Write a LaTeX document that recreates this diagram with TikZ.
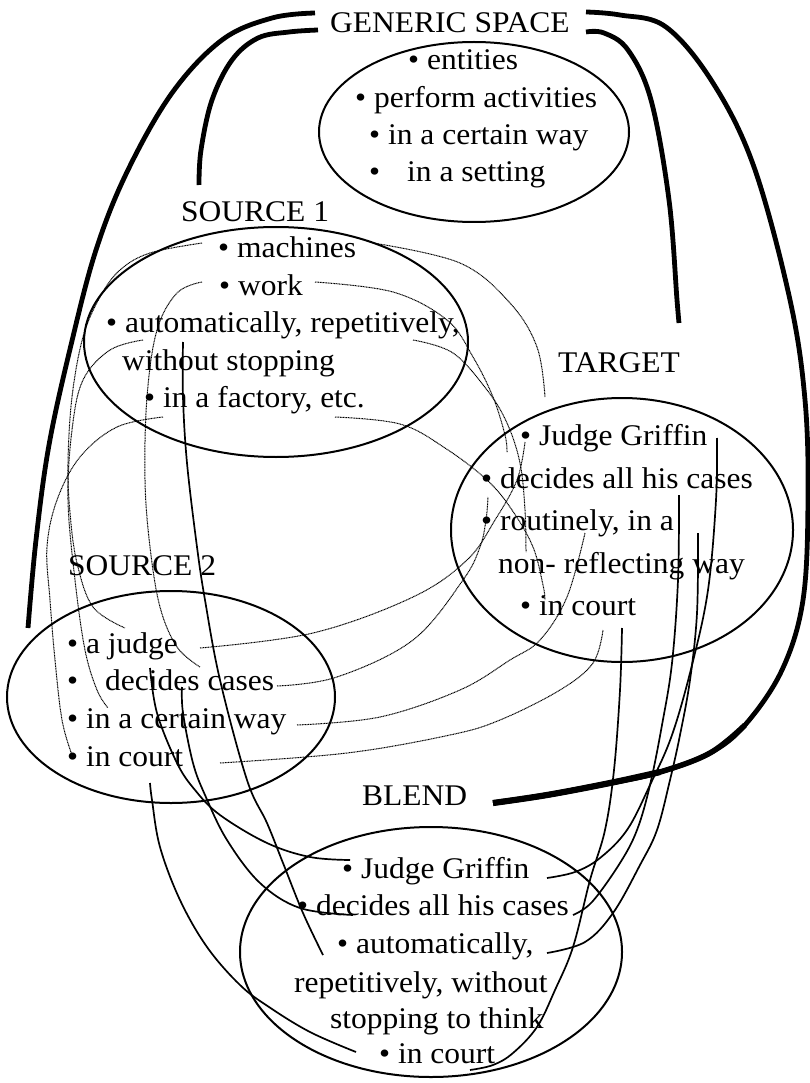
\documentclass[tikz,border=0pt]{standalone}
\usepackage{fontspec}
\setmainfont{Liberation Serif}[FakeStretch=1.05]
\usetikzlibrary{shapes.geometric}
\begin{document}
\begin{tikzpicture}[x=1pt,y=-1pt,
  lbl/.style={anchor=base west, inner sep=0pt, font=\fontsize{30}{36}\selectfont},
  spacebox/.style={draw, ellipse, line width=2pt, inner sep=0pt},
  gen/.style={line width=4.8pt},
  maplink/.style={line width=1pt, dash pattern=on 1pt off 0.6pt},
  proj/.style={line width=1.7pt},
  curve/.style={smooth, tension=0.6}]
\useasboundingbox (0,0) rectangle (810,1083);
\fill[white] (0,0) rectangle (810,1083);

% mental spaces
\node[spacebox, minimum width=310pt, minimum height=180pt] (genE) at (474,132) {};
\node[spacebox, minimum width=384pt, minimum height=230pt] (srcOneE) at (276,342) {};
\node[spacebox, minimum width=342pt, minimum height=264pt] (tgtE) at (622,530) {};
\node[spacebox, minimum width=328pt, minimum height=212pt] (srcTwoE) at (171,697) {};
\node[spacebox, minimum width=382pt, minimum height=250pt] (blendE) at (431,952) {};

% generic space
\node[lbl] (gsLabel) at (330,33) {GENERIC SPACE};
\node[lbl] (g1) at (408,70) {• entities};
\node[lbl] (g2) at (355,108) {• perform activities};
\node[lbl] (g3) at (369,145) {• in a certain way};
\node[lbl] (g4) at (369,182) {•\hspace{0.9em}in a setting};

% source 1
\node[lbl] (s1Label) at (181,222) {SOURCE 1};
\node[lbl] (s1a) at (218,258) {• machines};
\node[lbl] (s1b) at (219,295) {• work};
\node[lbl] (s1c) at (106,332) {• automatically, repetitively,};
\node[lbl] (s1d) at (122,370) {without stopping};
\node[lbl] (s1e) at (144,407) {• in a factory, etc.};

% target
\node[lbl] (tLabel) at (558,372) {TARGET};
\node[lbl] (t1) at (520,445) {• Judge Griffin};
\node[lbl] (t2) at (481,488) {• decides all his cases};
\node[lbl] (t3) at (481,530) {• routinely, in a};
\node[lbl] (t4) at (498,573) {non- reflecting way};
\node[lbl] (t5) at (520,615) {• in court};

% source 2
\node[lbl] (s2Label) at (68,575) {SOURCE 2};
\node[lbl] (s2a) at (67,653) {• a judge};
\node[lbl] (s2b) at (67,690) {•\hspace{0.9em}decides cases};
\node[lbl] (s2c) at (67,728) {• in a certain way};
\node[lbl] (s2d) at (67,766) {• in court};

% blend
\node[lbl] (bLabel) at (362,805) {BLEND};
\node[lbl] (b1) at (342,878) {• Judge Griffin};
\node[lbl] (b2) at (297,915) {• decides all his cases};
\node[lbl] (b3) at (337,953) {• automatically,};
\node[lbl] (b4) at (294,992) {repetitively, without};
\node[lbl] (b5) at (330,1028) {stopping to think};
\node[lbl] (b6) at (379,1063) {• in court};

% connector ends
\coordinate (gsOutL) at (315,13);
\coordinate (gsInL) at (318,30);
\coordinate (gsInR) at (586,32);
\coordinate (gsOutR) at (586,12);
\coordinate (srcTwoTop) at (28,628);
\coordinate (srcOneTop) at (199,185);
\coordinate (tgtTop) at (679,323);
\coordinate (blendTop) at (493,803);

\coordinate (s1aL) at (202,243);  \coordinate (s1aR) at (373,243);
\coordinate (s1bL) at (202,282);  \coordinate (s1bR) at (315,282);
\coordinate (s1cL) at (143,340);  \coordinate (s1cR) at (413,340);
\coordinate (s1eL) at (163,417);  \coordinate (s1eR) at (335,417);
\coordinate (s1cD) at (183,342);

\coordinate (s2aU) at (125,628);  \coordinate (s2aR) at (200,648);
\coordinate (s2bU) at (200,667);  \coordinate (s2bR) at (277,686);
\coordinate (s2cU) at (108,708);  \coordinate (s2cR) at (297,725);
\coordinate (s2dU) at (72,755);   \coordinate (s2dR) at (220,763);
\coordinate (s2aD) at (150,668);  \coordinate (s2bD) at (182,687);
\coordinate (s2dD) at (150,783);

\coordinate (t1U) at (545,397);   \coordinate (t1B) at (525,442);
\coordinate (t2U) at (507,452);   \coordinate (t2B) at (488,497);
\coordinate (t3U) at (526,552);   \coordinate (t3B) at (585,533);
\coordinate (t5U) at (545,600);   \coordinate (t5B) at (603,630);
\coordinate (t1D) at (717,438);   \coordinate (t2D) at (679,495);
\coordinate (t3D) at (698,533);   \coordinate (t5D) at (622,628);

\coordinate (b1L) at (350,860);   \coordinate (b1R) at (547,878);
\coordinate (b2L) at (353,915);   \coordinate (b2R) at (573,915);
\coordinate (b3L) at (323,955);   \coordinate (b3R) at (547,953);
\coordinate (b6L) at (356,1052);  \coordinate (b6R) at (470,1070);

% generic space to the other spaces
\draw[gen] plot[curve] coordinates {(gsOutL) (272,18) (222,40) (172,93) (127,172) (96,250) (71,345) (49,445) (36,540) (srcTwoTop)};
\draw[gen] plot[curve] coordinates {(gsInL) (289,32) (258,38) (232,60) (212,100) (201,150) (srcOneTop)};
\draw[gen] plot[curve] coordinates {(gsInR) (604,33) (628,50) (651,100) (669,200) (677,300) (tgtTop)};
\draw[gen] plot[curve] coordinates {(gsOutR) (620,15) (666,27) (713,83) (754,167) (790,300) (805,400) (808,500) (803,600) (782,670) (745,725) (710,753) (660,772) (610,783) (547,795) (blendTop)};
% the stroke swells as it reaches the blend
\draw[line width=5.5pt] plot[curve] coordinates {(745,725) (710,753) (660,772) (610,783) (547,795) (blendTop)};
\draw[line width=6.2pt] plot[curve] coordinates {(660,772) (610,783) (547,795) (blendTop)};

% source 1 to source 2
\draw[maplink] plot[curve] coordinates {(s1aL) (150,253) (120,270) (100,297) (83,337) (72,397) (68,463) (70,513) (77,563) (93,607) (s2aU)};
\draw[maplink] plot[curve] coordinates {(s1bL) (177,293) (157,330) (147,397) (145,480) (150,547) (160,607) (177,647) (s2bU)};
\draw[maplink] plot[curve] coordinates {(s1cL) (110,350) (83,380) (72,430) (68,500) (75,580) (85,650) (97,690) (s2cU)};
\draw[maplink] plot[curve] coordinates {(s1eL) (117,427) (80,457) (57,500) (47,547) (50,600) (55,660) (62,720) (s2dU)};

% source 1 to target
\draw[maplink] plot[curve] coordinates {(s1aR) (460,263) (510,303) (537,347) (t1U)};
\draw[maplink] plot[curve] coordinates {(s1bR) (393,292) (447,320) (473,357) (493,397) (505,435) (t2U)};
\draw[maplink] plot[curve] coordinates {(s1cR) (453,353) (487,390) (507,423) (520,463) (525,510) (t3U)};
\draw[maplink] plot[curve] coordinates {(s1eR) (400,424) (445,448) (487,480) (512,510) (533,547) (543,585) (t5U)};

% source 2 to target
\draw[maplink] plot[curve] coordinates {(s2aR) (313,633) (413,597) (467,560) (495,520) (517,480) (t1B)};
\draw[maplink] plot[curve] coordinates {(s2bR) (337,677) (413,640) (463,580) (480,547) (486,520) (t2B)};
\draw[maplink] plot[curve] coordinates {(s2cR) (380,717) (460,690) (510,660) (540,640) (567,597) (t3B)};
\draw[maplink] plot[curve] coordinates {(s2dR) (347,753) (450,735) (500,720) (560,690) (593,663) (t5B)};

% projections into the blend
\draw[proj] plot[curve] coordinates {(s1cD) (183,397) (187,463) (197,547) (205,600) (220,680) (247,780) (267,823) (283,863) (303,913) (b3L)};
\draw[proj] plot[curve] coordinates {(s2aD) (157,713) (177,763) (195,790) (220,815) (267,843) (310,857) (b1L)};
\draw[proj] plot[curve] coordinates {(s2bD) (183,713) (193,763) (205,795) (227,840) (260,883) (300,908) (b2L)};
\draw[proj] plot[curve] coordinates {(s2dD) (152,800) (160,847) (180,900) (207,947) (240,985) (269,1007) (310,1032) (b6L)};
\draw[proj] plot[curve] coordinates {(t1D) (716,500) (708,590) (692,665) (672,735) (650,785) (627,830) (600,858) (575,872) (b1R)};
\draw[proj] plot[curve] coordinates {(t2D) (678,580) (672,663) (662,725) (650,785) (637,830) (620,863) (592,902) (b2R)};
\draw[proj] plot[curve] coordinates {(t3D) (697,613) (690,680) (680,735) (670,780) (657,830) (640,865) (613,913) (585,942) (b3R)};
\draw[proj] plot[curve] coordinates {(t5D) (620,690) (614,770) (605,830) (590,880) (573,947) (555,990) (537,1027) (513,1053) (493,1065) (b6R)};
\end{tikzpicture}
\end{document}
